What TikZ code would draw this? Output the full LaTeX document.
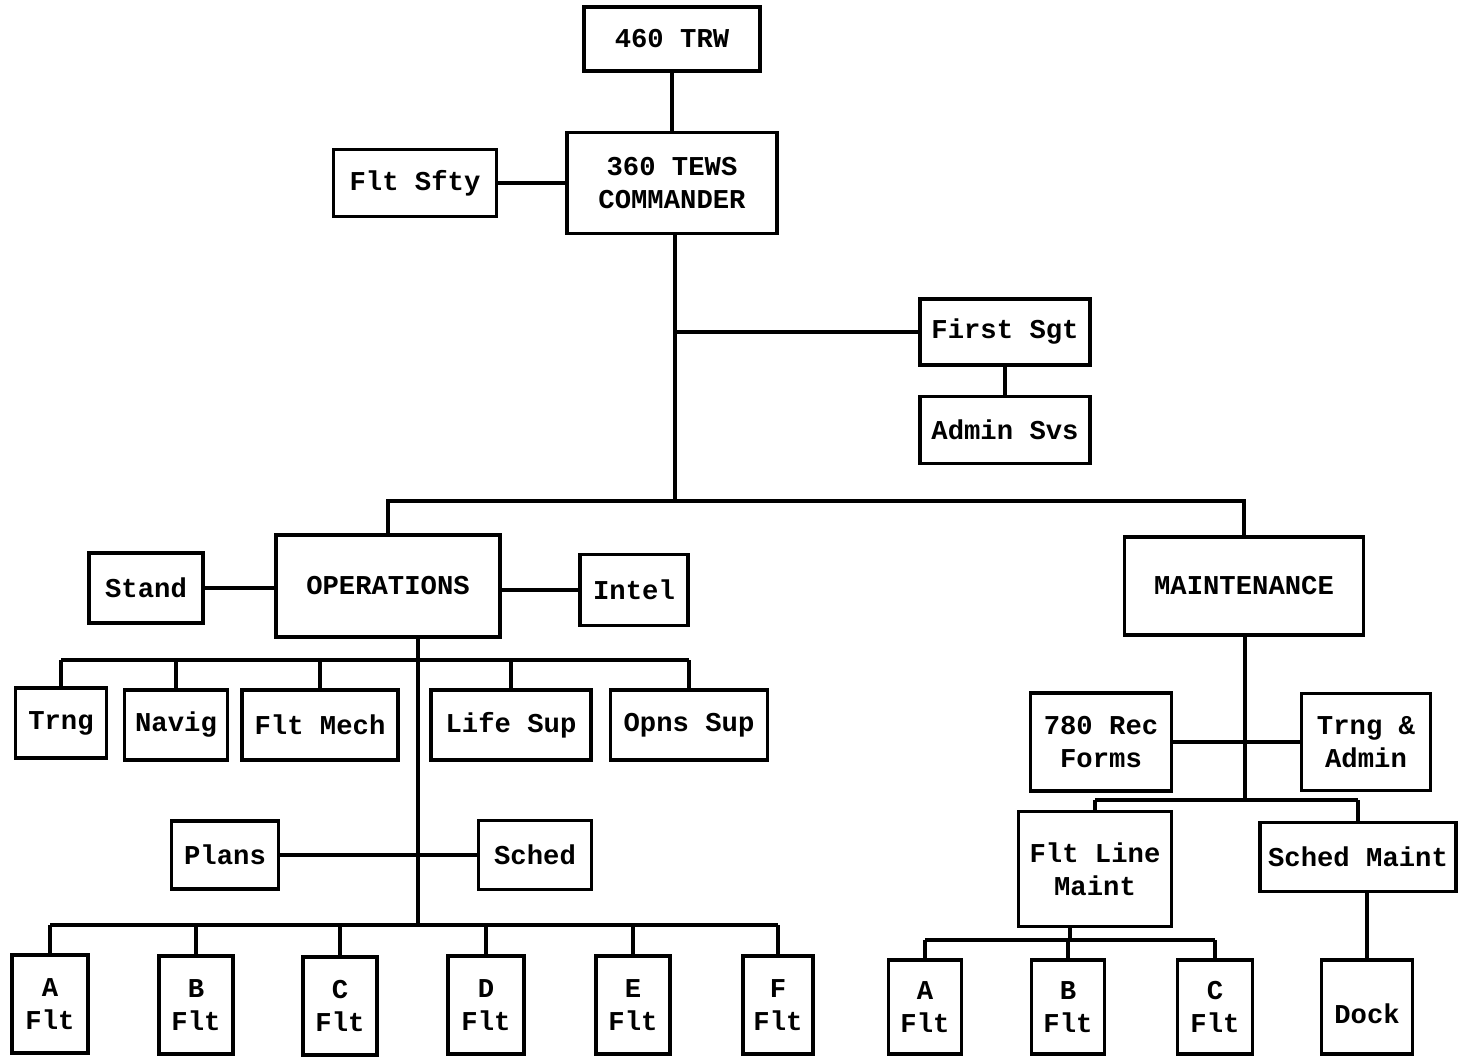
\documentclass[tikz,border=0pt]{standalone}
\usepackage{fontspec}
\setmainfont{Liberation Mono}
\usetikzlibrary{positioning,calc}
\tikzset{
   unit/.style 2 args={rectangle, draw=black, line width=1.9pt, fill=white, align=center, inner sep=0pt, font=\bfseries\fontsize{15.5}{19}\selectfont, minimum width=#1*0.02cm, minimum height=#2*0.02cm},
   link/.style={draw=black, line width=1.8pt},
   >=latex
}
\begin{document}
\begin{tikzpicture}[x=0.02cm,y=-0.02cm]

  \useasboundingbox[fill=white] (0,0) rectangle (1458,1057);

  \node[unit={176}{64}]  at (672,39)   (wing)      {460 TRW};
  \node[unit={210}{101}] at (672,183)  (cmdr)      {360 TEWS\\COMMANDER};
  \node[unit={163}{67}]  at (415,183)  (safety)    {Flt Sfty};
  \node[unit={170}{66}]  at (1005,332) (firstsgt)  {First Sgt};
  \node[unit={170}{67}]  at (1005,430) (adminsvs)  {Admin Svs};

  \node[unit={224}{102}] at (388,586)  (ops)       {OPERATIONS};
  \node[unit={114}{70}]  at (146,588)  (stand)     {Stand};
  \node[unit={108}{71}]  at (634,590)  (intel)     {Intel};
  \node[unit={239}{98}]  at (1244,586) (maint)     {MAINTENANCE};

  \node[unit={91}{70}]   at (61,723)   (optrng)    {Trng};
  \node[unit={103}{70}]  at (176,725)  (opnavig)   {Navig};
  \node[unit={156}{70}]  at (320,725)  (opmech)    {Flt Mech};
  \node[unit={160}{70}]  at (511,725)  (oplife)    {Life Sup};
  \node[unit={157}{70}]  at (689,725)  (opsup)     {Opns Sup};
  \node[unit={107}{68}]  at (225,855)  (opplans)   {Plans};
  \node[unit={113}{69}]  at (535,855)  (opsched)   {Sched};

  \node[unit={76}{98}]   at (50,1004)  (opa)       {A\\Flt};
  \node[unit={74}{98}]   at (196,1005) (opb)       {B\\Flt};
  \node[unit={74}{98}]   at (340,1006) (opc)       {C\\Flt};
  \node[unit={76}{98}]   at (486,1005) (opd)       {D\\Flt};
  \node[unit={74}{98}]   at (633,1005) (ope)       {E\\Flt};
  \node[unit={70}{98}]   at (778,1005) (opf)       {F\\Flt};

  \node[unit={141}{98}]  at (1101,742) (records)   {780 Rec\\Forms};
  \node[unit={129}{97}]  at (1366,742) (mxadmin)   {Trng \&\\Admin};
  \node[unit={153}{115}] at (1095,869) (linemx)    {Flt Line\\Maint};
  \node[unit={196}{69}]  at (1358,857) (schedmx)   {Sched Maint};

  \node[unit={73}{94}]   at (925,1007) (mxa)       {A\\Flt};
  \node[unit={73}{94}]   at (1068,1007) (mxb)      {B\\Flt};
  \node[unit={75}{94}]   at (1215,1007) (mxc)      {C\\Flt};
  \node[unit={91}{94}]   at (1367,1007) (dock)     {\mbox{}\\Dock};

  %%%%%%%%%%%

  \coordinate (hq bus)    at (675,501);
  \coordinate (staff bus) at (418,660);
  \coordinate (ops spine) at (418,925);
  \coordinate (mx bus)    at (1245,800);
  \coordinate (line bus)  at (1070,940);

  %%%%%%%%%%%

  \draw[link] (wing) -- (cmdr);
  \draw[link] (safety) -- (cmdr);
  \draw[link] (cmdr.south -| hq bus) -- (hq bus);
  \draw[link] (firstsgt.west -| hq bus) -- (firstsgt.west);
  \draw[link] (firstsgt) -- (adminsvs);
  \draw[link] (ops.north) -- (ops.north |- hq bus) -- (maint.north |- hq bus) -- (maint.north);

  \draw[link] (stand.east) -- (stand.east -| ops.west);
  \draw[link] (ops.east |- intel.west) -- (intel.west);
  \draw[link] (ops.south -| ops spine) -- (ops spine);
  \draw[link] (optrng.north |- staff bus) -- (opsup.north |- staff bus);
  \foreach \u in {optrng,opnavig,opmech,oplife,opsup}
    \draw[link] (\u.north |- staff bus) -- (\u.north);
  \draw[link] (opplans) -- (opsched);
  \draw[link] (opa.north |- ops spine) -- (opf.north |- ops spine);
  \foreach \u in {opa,opb,opc,opd,ope,opf}
    \draw[link] (\u.north |- ops spine) -- (\u.north);

  \draw[link] (maint.south -| mx bus) -- (mx bus);
  \draw[link] (records) -- (mxadmin);
  \draw[link] (linemx.north |- mx bus) -- (schedmx.north |- mx bus);
  \draw[link] (linemx.north |- mx bus) -- (linemx.north);
  \draw[link] (schedmx.north |- mx bus) -- (schedmx.north);
  \draw[link] (linemx.south -| line bus) -- (line bus);
  \draw[link] (mxa.north |- line bus) -- (mxc.north |- line bus);
  \foreach \u in {mxa,mxb,mxc}
    \draw[link] (\u.north |- line bus) -- (\u.north);
  \draw[link] (schedmx.south -| dock.north) -- (dock.north);

\end{tikzpicture}
\end{document}
